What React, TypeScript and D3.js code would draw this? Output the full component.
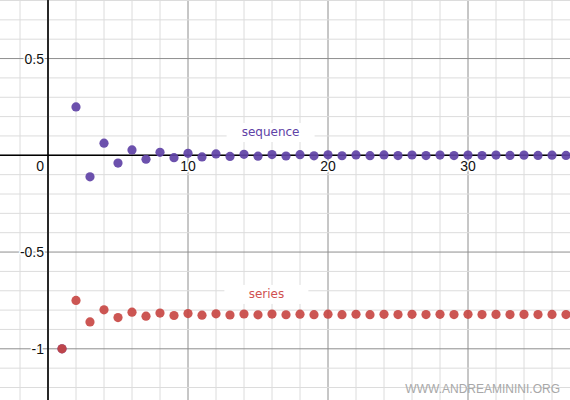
import * as d3 from 'd3'

const W = 570
const H = 400

// a_n = (-1)^n / n^2
const seqN = d3.range(1, 38)
const seqVals = [
  -1, 0.25, -0.1111, 0.0625, -0.04, 0.0278, -0.0204, 0.0156, -0.0123, 0.01,
  -0.0083, 0.0069, -0.0059, 0.0051, -0.0044, 0.0039, -0.0035, 0.0031, -0.0028, 0.0025,
  -0.0023, 0.0021, -0.0019, 0.0017, -0.0016, 0.0015, -0.0014, 0.0013, -0.0012, 0.0011,
  -0.001, 0.001, -0.0009, 0.0009, -0.0008, 0.0008, -0.0007,
]
// partial sums
const serVals = [
  -1, -0.75, -0.8611, -0.7986, -0.8386, -0.8108, -0.8312, -0.8156, -0.828, -0.818,
  -0.8262, -0.8193, -0.8252, -0.8201, -0.8245, -0.8206, -0.8241, -0.821, -0.8238, -0.8213,
  -0.8236, -0.8215, -0.8234, -0.8217, -0.8233, -0.8218, -0.8232, -0.8219, -0.8231, -0.822,
  -0.823, -0.8221, -0.823, -0.8221, -0.8229, -0.8222, -0.8229,
]

const xTicks = [10, 20, 30]
const yTicks = [0.5, -0.5, -1]
const xMinor = d3.range(-2, 38, 2)
const yMinor = d3.range(-12, 9).map((k) => k / 10)

const PURPLE = '#6042a6'
const RED = '#c74440'

const x = d3.scaleLinear().domain([-48 / 14, (W - 48) / 14]).range([0, W])
const y = d3.scaleLinear().domain([155.3 / 193.5, -(H - 155.3) / 193.5]).range([0, H])

const tickFont = { fontFamily: '"Liberation Sans", Arial, sans-serif', fontSize: 14 }
const halo = { stroke: '#fff', strokeWidth: 3, paintOrder: 'stroke' as const, strokeLinejoin: 'round' as const }

function Label({ cx, cy, text, color, w }: { cx: number; cy: number; text: string; color: string; w: number }) {
  const px = x(cx)
  const py = y(cy)
  return (
    <g>
      <rect x={px - w / 2} y={py - 13} width={w} height={19} fill="#fff" />
      <text x={px} y={py} textAnchor="middle" fill={color} fontFamily='"DejaVu Sans", sans-serif' fontSize={12}>{text}</text>
    </g>
  )
}

export default function App() {
  return (
    <div style={{ position: 'absolute', left: 0, top: 0 }}>
      <svg width={W} height={H} style={{ display: 'block', background: '#fff' }}>
        {xMinor.map((v) => (
          <line key={'xm' + v} x1={x(v)} x2={x(v)} y1={0} y2={H} stroke={v % 10 === 0 ? '#8e8e8e' : '#dcdcdc'} strokeWidth={1} />
        ))}
        {yMinor.map((v) => (
          <line key={'ym' + v} x1={0} x2={W} y1={y(v)} y2={y(v)} stroke={Math.abs((v * 10) % 5) < 1e-9 ? '#8e8e8e' : '#dcdcdc'} strokeWidth={1} />
        ))}
        <line x1={x(0)} x2={x(0)} y1={0} y2={H} stroke="#000" strokeWidth={1.6} />
        <line x1={0} x2={W} y1={y(0)} y2={y(0)} stroke="#000" strokeWidth={1.6} />

        {xTicks.map((v) => (
          <text key={'xt' + v} x={x(v)} y={y(0) + 16} textAnchor="middle" fill="#111" {...tickFont} style={halo}>{v}</text>
        ))}
        {yTicks.map((v) => (
          <text key={'yt' + v} x={x(0) - 4} y={y(v) + 5} textAnchor="end" fill="#111" {...tickFont} style={halo}>{v < 0 ? '-' + Math.abs(v) : String(v)}</text>
        ))}
        <text x={x(0) - 4} y={y(0) + 16} textAnchor="end" fill="#111" {...tickFont} style={halo}>0</text>

        {seqN.map((n, i) => (
          <circle key={'s' + n} cx={x(n)} cy={y(seqVals[i])} r={4.6} fill={PURPLE} fillOpacity={0.92} />
        ))}
        {seqN.map((n, i) => (
          <circle key={'r' + n} cx={x(n)} cy={y(serVals[i])} r={4.6} fill={RED} fillOpacity={0.9} />
        ))}

        <Label cx={15.9} cy={0.0997} text="sequence" color={PURPLE} w={88} />
        <Label cx={15.6} cy={-0.737} text="series" color="#d05050" w={84} />

        <text x={560} y={393} textAnchor="end" fill="#a8a8a8" fontFamily='"Liberation Sans", Arial, sans-serif' fontSize={12}>WWW.ANDREAMININI.ORG</text>
      </svg>
    </div>
  )
}
